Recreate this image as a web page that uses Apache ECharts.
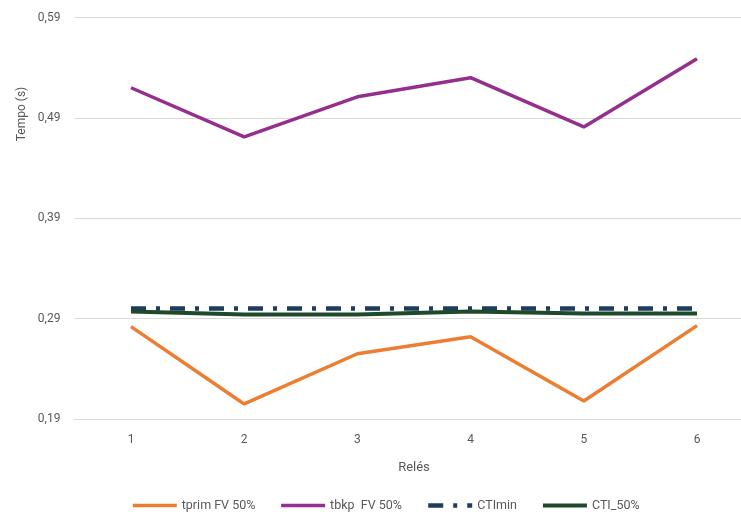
<!DOCTYPE html>
<html>
<head>
<meta charset="utf-8">
<script src="https://cdn.jsdelivr.net/npm/echarts@6/dist/echarts.min.js"></script>
<style>
  html, body { margin: 0; padding: 0; background: #ffffff; overflow: hidden; }
  /* canvas is slightly wider than the page so the plot area runs past the right edge */
  #chart { width: 760px; height: 518px; }
</style>
</head>
<body>
<div id="chart"></div>
<script>
// Relay numbers on the category axis
const reles = ['1', '2', '3', '4', '5', '6'];

// Operating times (s)
const tprimFV50 = [0.282, 0.205, 0.255, 0.272, 0.208, 0.283];
const tbkpFV50  = [0.520, 0.471, 0.511, 0.530, 0.481, 0.549];
const ctiMin    = [0.300, 0.300, 0.300, 0.300, 0.300, 0.300];
const cti50     = [0.297, 0.294, 0.294, 0.297, 0.295, 0.295];

// Value axis range
const yMin = 0.19;
const yMax = 0.59;
const yStep = 0.1;

const fmt = v => v.toFixed(2).replace('.', ',');
const textGray = '#595959';
const font = 'Roboto, "Liberation Sans", sans-serif';

const chart = echarts.init(document.getElementById('chart'), null, { renderer: 'canvas' });

chart.setOption({
  animation: false,
  backgroundColor: '#ffffff',
  textStyle: { fontFamily: font },
  grid: { left: 74.4, width: 679.2, top: 17.5, height: 401.5, containLabel: false },
  xAxis: {
    type: 'category',
    data: reles,
    boundaryGap: true,
    name: 'Relés',
    nameLocation: 'middle',
    nameGap: 42,
    nameTextStyle: { color: textGray, fontSize: 13, fontFamily: font },
    axisLine: { show: true, lineStyle: { color: '#d9d9d9', width: 1 } },
    axisTick: { show: false },
    axisLabel: { color: textGray, fontSize: 12, margin: 15, fontFamily: font }
  },
  yAxis: {
    type: 'value',
    min: yMin,
    max: yMax,
    interval: yStep,
    axisLine: { show: false },
    axisTick: { show: false },
    splitLine: { lineStyle: { color: '#d9d9d9', width: 1 } },
    axisLabel: { color: textGray, fontSize: 12, margin: 14, fontFamily: font, formatter: fmt }
  },
  legend: {
    left: 131,
    top: 499,
    padding: 0,
    itemWidth: 44,
    itemHeight: 12,
    itemGap: 24,
    itemStyle: { opacity: 0 },
    lineStyle: { width: 'inherit' },
    textStyle: { color: textGray, fontSize: 12.5, fontFamily: font },
    data: ['tprim FV 50%', 'tbkp  FV 50%', 'CTImin', 'CTI_50%']
  },
  graphic: [{
    type: 'text',
    x: 22,
    y: 114,
    rotation: Math.PI / 2,
    style: {
      text: 'Tempo (s)',
      fill: textGray,
      font: '12px ' + font,
      textAlign: 'center',
      textVerticalAlign: 'middle'
    }
  }],
  series: [
    {
      name: 'tprim FV 50%',
      type: 'line',
      data: tprimFV50,
      showSymbol: false,
      symbol: 'none',
      lineStyle: { color: '#ed7d31', width: 3.5 },
      itemStyle: { color: '#ed7d31' }
    },
    {
      name: 'tbkp  FV 50%',
      type: 'line',
      data: tbkpFV50,
      showSymbol: false,
      symbol: 'none',
      lineStyle: { color: '#952f8e', width: 3.5 },
      itemStyle: { color: '#952f8e' }
    },
    {
      name: 'CTImin',
      type: 'line',
      data: ctiMin,
      showSymbol: false,
      symbol: 'none',
      lineStyle: { color: '#1c3d5e', width: 4.5, type: [15, 10, 4, 10], cap: 'butt' },
      itemStyle: { color: '#1c3d5e' }
    },
    {
      name: 'CTI_50%',
      type: 'line',
      data: cti50,
      showSymbol: false,
      symbol: 'none',
      lineStyle: { color: '#1e4a2b', width: 4 },
      itemStyle: { color: '#1e4a2b' }
    }
  ]
});
</script>
</body>
</html>
